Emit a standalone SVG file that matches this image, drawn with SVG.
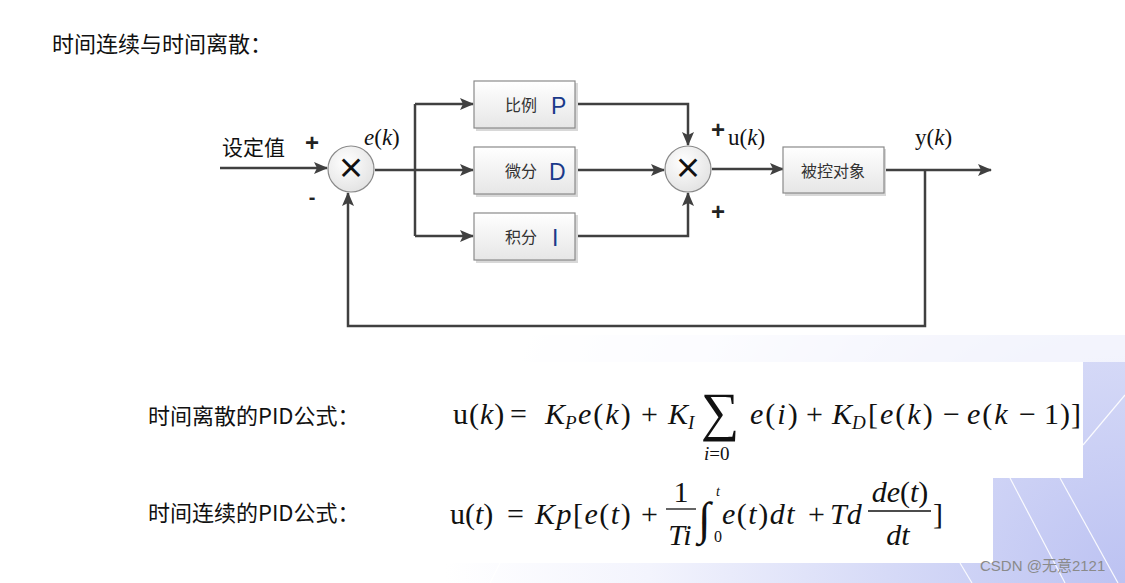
<svg xmlns="http://www.w3.org/2000/svg" width="1125" height="583" viewBox="0 0 1125 583">
<defs>
  <radialGradient id="bg" cx="1125" cy="583" r="680" gradientUnits="userSpaceOnUse">
    <stop offset="0" stop-color="#bcc2f2"/>
    <stop offset="0.35" stop-color="#d6daf7"/>
    <stop offset="0.7" stop-color="#f3f4fd"/>
    <stop offset="1" stop-color="#ffffff"/>
  </radialGradient>
  <linearGradient id="boxg" x1="0" y1="0" x2="0" y2="1">
    <stop offset="0" stop-color="#ffffff"/>
    <stop offset="1" stop-color="#e6e6e6"/>
  </linearGradient>
  <radialGradient id="circg" cx="0.4" cy="0.35" r="0.7">
    <stop offset="0" stop-color="#ffffff"/>
    <stop offset="1" stop-color="#e2e2e2"/>
  </radialGradient>
  <marker id="arr" viewBox="0 0 14 12" refX="13" refY="6" markerWidth="14" markerHeight="12" markerUnits="userSpaceOnUse" orient="auto">
    <path d="M0,0 L14,6 L0,12 L3,6 Z" fill="#404040"/>
  </marker>
  <style>
    .ln{fill:none;stroke:#404040;stroke-width:2.5}
    .box{fill:url(#boxg);stroke:#8a8a8a;stroke-width:1.2}
    .shadow{fill:#d8d8d8}
    .circ{fill:url(#circg);stroke:#8a8a8a;stroke-width:1.2}
    .cn{font-family:"Noto Sans CJK SC","Microsoft YaHei",sans-serif;fill:#333}
    .lt{font-family:"Liberation Sans",Arial,sans-serif;fill:#1a3a8a}
    .pl{font-family:"Liberation Sans",Arial,sans-serif;font-weight:bold;fill:#222}
    .m{font-family:"Liberation Serif","Times New Roman",serif;fill:#111}
    .mi{font-family:"Liberation Serif","Times New Roman",serif;font-style:italic;fill:#111}
    .sg{font-family:"Noto Sans CJK SC",sans-serif;fill:#111}
    .wl{stroke:#ffffff;stroke-width:1.2;fill:none;opacity:0.9}
  </style>
</defs>

<!-- background -->
<rect x="0" y="0" width="1125" height="583" fill="url(#bg)"/>
<g id="bg-lines">
  <line class="wl" x1="1083" y1="445" x2="1125" y2="395"/>
  <line class="wl" x1="1010" y1="478" x2="1065" y2="583"/>
  <line class="wl" x1="1060" y1="478" x2="1118" y2="583"/>
  <line class="wl" x1="490" y1="583" x2="500" y2="563"/>
  <line class="wl" x1="960" y1="563" x2="972" y2="583"/>
</g>
<rect x="0" y="0" width="1125" height="335" fill="#ffffff"/>
<rect x="0" y="0" width="440" height="563" fill="#ffffff"/>
<rect x="440" y="335" width="685" height="27" fill="#ffffff" opacity="0.7"/>
<rect x="440" y="362" width="643" height="116" fill="#ffffff"/>
<rect x="440" y="478" width="553" height="85" fill="#ffffff"/>

<!-- title -->
<text x="52" y="52" class="cn" font-size="22" style="fill:#111">时间连续与时间离散：</text>

<!-- connectors -->
<g id="connectors">
  <line class="ln" x1="220" y1="168" x2="327" y2="168" marker-end="url(#arr)"/>
  <polyline class="ln" points="375,170 415,170"/>
  <polyline class="ln" points="415,104 415,236"/>
  <line class="ln" x1="415" y1="104" x2="473" y2="104" marker-end="url(#arr)"/>
  <line class="ln" x1="415" y1="170" x2="473" y2="170" marker-end="url(#arr)"/>
  <line class="ln" x1="415" y1="236" x2="473" y2="236" marker-end="url(#arr)"/>
  <polyline class="ln" points="576,104 688,104 688,145" marker-end="url(#arr)"/>
  <line class="ln" x1="576" y1="170" x2="664" y2="170" marker-end="url(#arr)"/>
  <polyline class="ln" points="576,236 688,236 688,193" marker-end="url(#arr)"/>
  <line class="ln" x1="712" y1="169" x2="783" y2="169" marker-end="url(#arr)"/>
  <line class="ln" x1="885" y1="170" x2="991" y2="170" marker-end="url(#arr)"/>
  <polyline class="ln" points="925,170 925,326 348,326 348,193" marker-end="url(#arr)"/>
</g>

<!-- summing junction 1 -->
<g id="sum1">
  <circle class="circ" cx="351" cy="169" r="23"/>
  <text x="351" y="179" text-anchor="middle" class="sg" font-size="28" font-weight="bold">×</text>
</g>
<g id="sum1-labels">
  <text x="222" y="155" class="cn" font-size="21" style="fill:#111">设定值</text>
  <text x="312" y="151" class="pl" font-size="24" text-anchor="middle">+</text>
  <text x="312" y="204" class="pl" font-size="20" text-anchor="middle">-</text>
  <text x="364" y="145" class="mi" font-size="23">e<tspan class="m" font-style="normal">(</tspan>k<tspan class="m" font-style="normal">)</tspan></text>
</g>

<!-- P box -->
<g id="boxP">
  <rect class="shadow" x="476" y="83" width="102" height="48"/>
  <rect class="box" x="474" y="81" width="101" height="47"/>
  <text x="505" y="111" class="cn" font-size="16">比例</text>
  <text x="551" y="114" class="lt" font-size="23">P</text>
</g>
<!-- D box -->
<g id="boxD">
  <rect class="shadow" x="476" y="149" width="102" height="48"/>
  <rect class="box" x="474" y="147" width="101" height="47"/>
  <text x="505" y="177" class="cn" font-size="16">微分</text>
  <text x="549" y="180" class="lt" font-size="23">D</text>
</g>
<!-- I box -->
<g id="boxI">
  <rect class="shadow" x="476" y="215" width="102" height="48"/>
  <rect class="box" x="474" y="213" width="101" height="47"/>
  <text x="505" y="243" class="cn" font-size="16">积分</text>
  <text x="552" y="246" class="lt" font-size="23">I</text>
</g>

<!-- summing junction 2 -->
<g id="sum2">
  <circle class="circ" cx="688" cy="169" r="23"/>
  <text x="688" y="179" text-anchor="middle" class="sg" font-size="28" font-weight="bold">×</text>
</g>
<g id="sum2-labels">
  <text x="718" y="138" class="pl" font-size="24" text-anchor="middle">+</text>
  <text x="718" y="220" class="pl" font-size="24" text-anchor="middle">+</text>
  <text x="728" y="145" class="m" font-size="23">u(<tspan class="mi">k</tspan>)</text>
</g>

<!-- plant -->
<g id="plant">
  <rect class="shadow" x="785" y="149" width="101" height="47"/>
  <rect class="box" x="783" y="147" width="101" height="46"/>
  <text x="833" y="177" class="cn" font-size="16" text-anchor="middle">被控对象</text>
</g>
<g id="output-label">
  <text x="915" y="145" class="m" font-size="23">y(<tspan class="mi">k</tspan>)</text>
</g>

<!-- formula labels -->
<text x="148" y="424" class="cn" font-size="22" style="fill:#111">时间离散的PID公式：</text>
<text x="148" y="521" class="cn" font-size="22" style="fill:#111">时间连续的PID公式：</text>

<!-- discrete formula -->
<g id="formula1" font-size="30">
  <text x="453" y="424" class="m" letter-spacing="1">u(<tspan class="mi">k</tspan>)</text>
  <text x="510" y="424" class="m">=</text>
  <text x="545" y="424" class="mi">K<tspan font-size="19" dy="5">P</tspan></text>
  <text x="578" y="424" class="mi" letter-spacing="2">e<tspan class="m" font-style="normal">(</tspan>k<tspan class="m" font-style="normal">)</tspan></text>
  <text x="641" y="424" class="m">+</text>
  <text x="668" y="424" class="mi">K<tspan font-size="19" dy="5">I</tspan></text>
  <text x="701" y="430" class="m" font-size="54">∑</text>
  <text x="704" y="460" class="mi" font-size="19">i<tspan class="m" font-style="normal">=0</tspan></text>
  <text x="750" y="424" class="mi" letter-spacing="2">e<tspan class="m" font-style="normal">(</tspan>i<tspan class="m" font-style="normal">)</tspan></text>
  <text x="806" y="424" class="m">+</text>
  <text x="832" y="424" class="mi">K<tspan font-size="19" dy="5">D</tspan></text>
  <text x="868" y="424" class="m" letter-spacing="2">[<tspan class="mi">e</tspan>(<tspan class="mi">k</tspan>)</text>
  <text x="943" y="424" class="m">−</text>
  <text x="967" y="424" class="mi" letter-spacing="2">e<tspan class="m" font-style="normal">(</tspan>k</text>
  <text x="1019" y="424" class="m">−</text>
  <text x="1044" y="424" class="m" letter-spacing="1">1)]</text>
</g>

<!-- continuous formula -->
<g id="formula2" font-size="30">
  <text x="450" y="524" class="m">u(<tspan class="mi">t</tspan>)</text>
  <text x="507" y="524" class="m">=</text>
  <text x="535" y="524" class="mi" letter-spacing="1.5">Kp<tspan class="m" font-style="normal">[</tspan>e<tspan class="m" font-style="normal">(</tspan>t<tspan class="m" font-style="normal">)</tspan></text>
  <text x="641" y="524" class="m">+</text>
  <text x="681" y="502" class="m" text-anchor="middle">1</text>
  <line x1="666" y1="509" x2="696" y2="509" stroke="#111" stroke-width="1.3"/>
  <text x="680" y="545" class="mi" text-anchor="middle">Ti</text>
  <text x="698" y="534" class="mi" font-size="46">∫</text>
  <text x="716" y="496" class="mi" font-size="14">t</text>
  <text x="714" y="542" class="m" font-size="16">0</text>
  <text x="722" y="524" class="mi" letter-spacing="1.5">e<tspan class="m" font-style="normal">(</tspan>t<tspan class="m" font-style="normal">)</tspan>dt</text>
  <text x="808" y="524" class="m">+</text>
  <text x="830" y="524" class="mi">Td</text>
  <text x="900" y="502" class="mi" text-anchor="middle">de<tspan class="m" font-style="normal">(</tspan>t<tspan class="m" font-style="normal">)</tspan></text>
  <line x1="868" y1="511" x2="931" y2="511" stroke="#111" stroke-width="1.3"/>
  <text x="898" y="545" class="mi" text-anchor="middle">dt</text>
  <text x="933" y="524" class="m">]</text>
</g>

<!-- watermark -->
<text x="980" y="571" font-family="'Liberation Sans','Noto Sans CJK SC',sans-serif" font-size="15" fill="#8a8a8a">CSDN @无意2121</text>
</svg>
